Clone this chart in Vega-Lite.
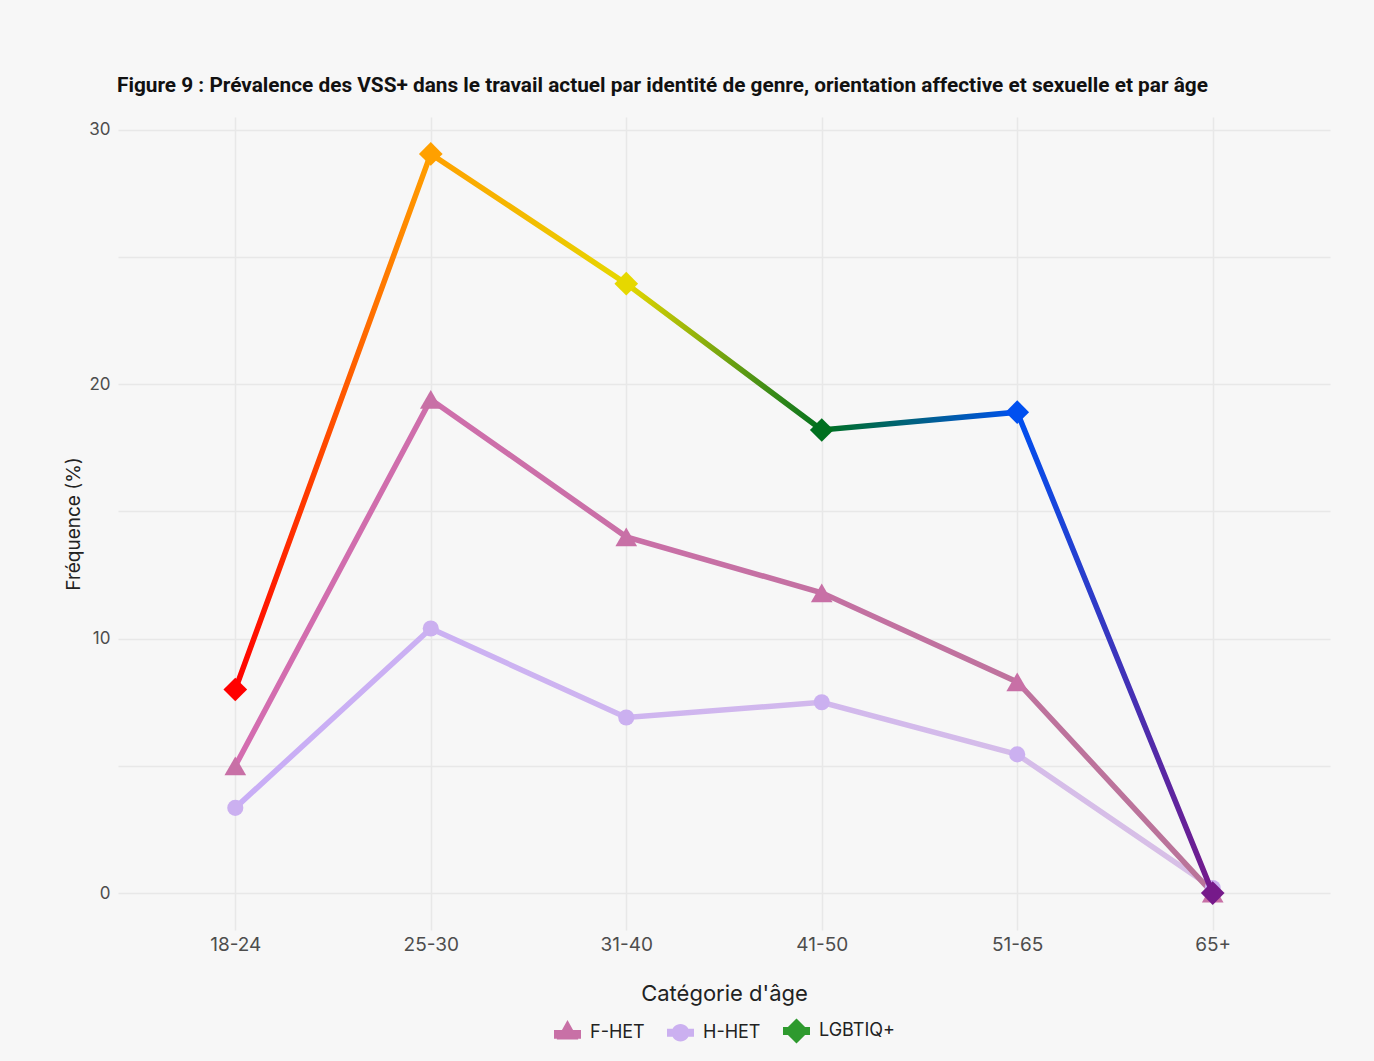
{
  "$schema": "https://vega.github.io/schema/vega-lite/v6.json",
  "width": 1212,
  "height": 813,
  "autosize": {"type": "none"},
  "padding": {"left": 118, "top": 117, "right": 44, "bottom": 131},
  "background": "#f7f7f7",
  "title": {
    "text": "Figure 9 : Prévalence des VSS+ dans le travail actuel par identité de genre, orientation affective et sexuelle et par âge",
    "anchor": "start",
    "frame": "group",
    "font": "Roboto",
    "fontSize": 20.8,
    "fontWeight": "bold",
    "color": "#111111",
    "offset": 20,
    "dx": -1
  },
  "config": {
    "view": {"stroke": null},
    "axis": {
      "domain": false,
      "ticks": false,
      "gridColor": "#e8e8e8",
      "gridWidth": 1.5,
      "labelFont": "Inter",
      "titleFont": "Inter",
      "labelColor": "#4d4d4d",
      "titleColor": "#222222",
      "titleFontWeight": "normal"
    },
    "legend": {
      "layout": {"bottom": {"anchor": "middle"}}
    }
  },
  "data": {
    "values": [
      {"age": "18-24", "group": "F-HET", "value": 5.0},
      {"age": "25-30", "group": "F-HET", "value": 19.4},
      {"age": "31-40", "group": "F-HET", "value": 14.0},
      {"age": "41-50", "group": "F-HET", "value": 11.8},
      {"age": "51-65", "group": "F-HET", "value": 8.3},
      {"age": "65+", "group": "F-HET", "value": 0.0},
      {"age": "18-24", "group": "H-HET", "value": 3.35},
      {"age": "25-30", "group": "H-HET", "value": 10.4},
      {"age": "31-40", "group": "H-HET", "value": 6.9},
      {"age": "41-50", "group": "H-HET", "value": 7.5},
      {"age": "51-65", "group": "H-HET", "value": 5.45},
      {"age": "65+", "group": "H-HET", "value": 0.2},
      {"age": "18-24", "group": "LGBTIQ+", "value": 8.0},
      {"age": "25-30", "group": "LGBTIQ+", "value": 29.05},
      {"age": "31-40", "group": "LGBTIQ+", "value": 23.95},
      {"age": "41-50", "group": "LGBTIQ+", "value": 18.2},
      {"age": "51-65", "group": "LGBTIQ+", "value": 18.9},
      {"age": "65+", "group": "LGBTIQ+", "value": 0.0}
    ]
  },
  "encoding": {
    "x": {
      "field": "age",
      "type": "ordinal",
      "scale": {"type": "point", "padding": 0.6, "domain": ["18-24", "25-30", "31-40", "41-50", "51-65", "65+"]},
      "axis": {
        "grid": true,
        "labelAngle": 0,
        "labelFontSize": 19,
        "labelPadding": 5,
        "title": "Catégorie d'âge",
        "titleFontSize": 22,
        "titlePadding": 29
      }
    },
    "y": {
      "field": "value",
      "type": "quantitative",
      "scale": {"domain": [-1.45, 30.5], "nice": false, "zero": false},
      "axis": {
        "values": [0, 5, 10, 15, 20, 25, 30],
        "labelExpr": "datum.value % 10 === 0 ? datum.label : ''",
        "labelFontSize": 17,
        "labelPadding": 8,
        "title": "Fréquence (%)",
        "titleFontSize": 19,
        "titlePadding": 5
      }
    }
  },
  "layer": [
    {
      "mark": {"type": "point", "filled": true, "opacity": 0, "size": 729},
      "encoding": {
        "color": {
          "field": "group",
          "type": "nominal",
          "scale": {
            "domain": ["F-HET", "H-HET", "LGBTIQ+"],
            "range": ["#c870a6", "#cbb0f0", "#2e9a2e"]
          },
          "legend": {
            "title": null,
            "orient": "bottom",
            "direction": "horizontal",
            "labelFont": "Inter",
            "labelFontSize": 18,
            "labelColor": "#222222",
            "labelOffset": 9,
            "columnPadding": 22,
            "symbolSize": 729,
            "symbolStrokeWidth": 0,
            "symbolOpacity": 1,
            "offset": 13
          }
        },
        "shape": {
          "field": "group",
          "type": "nominal",
          "scale": {
            "domain": ["F-HET", "H-HET", "LGBTIQ+"],
            "range": [
              "M-1,-0.2H1V0.45H-1Z M0,-0.95L0.8,0.5H-0.8Z",
              "M-1,-0.3H1V0.3H-1Z M-0.65,0A0.65,0.65 0 1,1 0.65,0A0.65,0.65 0 1,1 -0.65,0Z",
              "M-1,-0.3H1V0.3H-1Z M0,-0.93L0.93,0L0,0.93L-0.93,0Z"
            ]
          },
          "legend": {
            "title": null,
            "orient": "bottom",
            "direction": "horizontal",
            "labelFont": "Inter",
            "labelFontSize": 18,
            "labelColor": "#222222",
            "labelOffset": 9,
            "columnPadding": 22,
            "symbolSize": 729,
            "symbolStrokeWidth": 0,
            "symbolOpacity": 1,
            "offset": 13
          }
        }
      }
    },
    {
      "transform": [{"filter": "datum.group === 'H-HET'"}],
      "mark": {
        "type": "line",
        "strokeWidth": 5.5,
        "color": {
          "gradient": "linear", "x1": 0, "y1": 0, "x2": 1, "y2": 0,
          "stops": [{"offset": 0, "color": "#c8adf6"}, {"offset": 1, "color": "#d8c0e6"}]
        }
      }
    },
    {
      "transform": [{"filter": "datum.group === 'F-HET'"}],
      "mark": {
        "type": "line",
        "strokeWidth": 5.5,
        "color": {
          "gradient": "linear", "x1": 0, "y1": 0, "x2": 1, "y2": 0,
          "stops": [{"offset": 0, "color": "#d46db0"}, {"offset": 1, "color": "#b97499"}]
        }
      }
    },
    {
      "transform": [{"filter": "datum.group === 'H-HET'"}],
      "mark": {"type": "point", "shape": "circle", "filled": true, "size": 260, "color": "#cbb0f0", "opacity": 1}
    },
    {
      "transform": [{"filter": "datum.group === 'F-HET'"}],
      "mark": {"type": "point", "shape": "triangle-up", "filled": true, "size": 470, "color": "#c870a6", "opacity": 1}
    },
    {
      "transform": [{"filter": "datum.group === 'LGBTIQ+'"}],
      "mark": {
        "type": "line",
        "strokeWidth": 5.5,
        "color": {
          "gradient": "linear", "x1": 0, "y1": 0, "x2": 1, "y2": 0,
          "stops": [
            {"offset": 0, "color": "#ff0000"},
            {"offset": 0.2, "color": "#ffa000"},
            {"offset": 0.4, "color": "#e6d800"},
            {"offset": 0.6, "color": "#00701f"},
            {"offset": 0.8, "color": "#0050f0"},
            {"offset": 1, "color": "#761a8a"}
          ]
        }
      }
    },
    {
      "transform": [{"filter": "datum.group === 'LGBTIQ+'"}],
      "mark": {"type": "point", "shape": "diamond", "filled": true, "size": 560, "opacity": 1},
      "encoding": {
        "fill": {
          "field": "age",
          "type": "nominal",
          "scale": {
            "domain": ["18-24", "25-30", "31-40", "41-50", "51-65", "65+"],
            "range": ["#ff0000", "#ffa000", "#e6d800", "#00701f", "#0050f0", "#761a8a"]
          },
          "legend": null
        }
      }
    }
  ]
}
